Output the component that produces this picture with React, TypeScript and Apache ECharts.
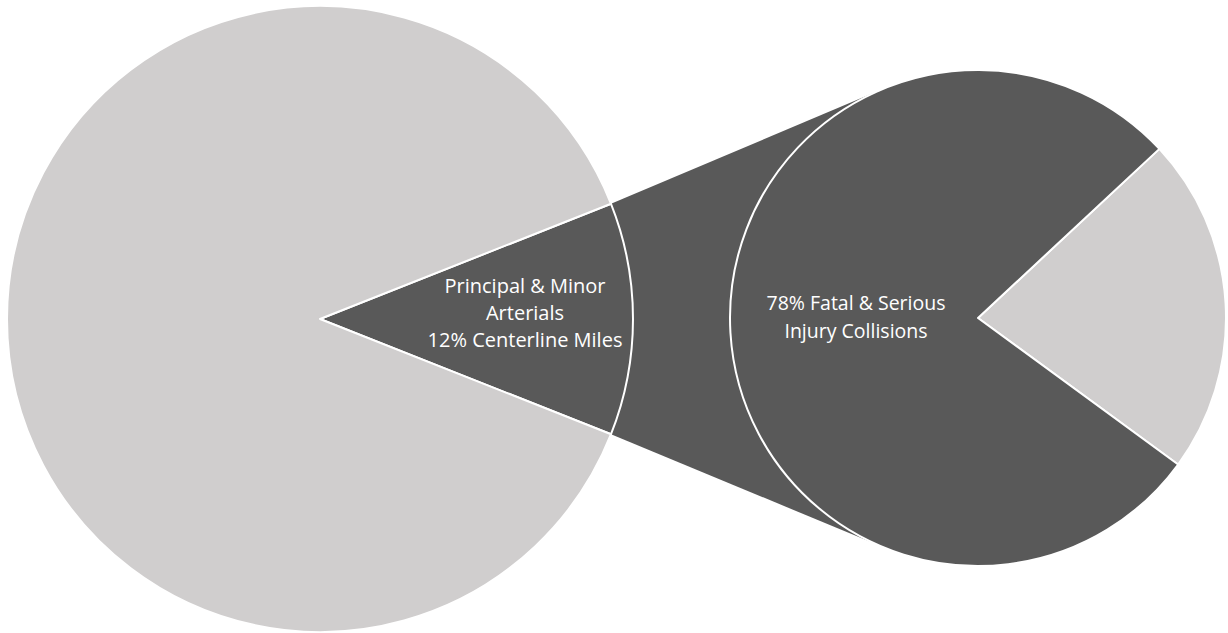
import React, { useEffect, useRef } from "react";
import * as echarts from "echarts";

// Share of centerline miles (left pie) and of fatal & serious injury collisions (right pie)
const milesLabels = ["Principal & Minor Arterials", "Other Roads"];
const milesValues = [12, 88];
const collisionLabels = ["Other Roads", "Principal & Minor Arterials"];
const collisionValues = [22, 78];

const DARK = "#595959";
const LIGHT = "#d0cece";
const W = 1228;
const H = 633;

// pie geometry (px)
const LEFT = { cx: 320, cy: 319, r: 313 };
const RIGHT = { cx: 978, cy: 318, r: 248 };

// outer tangent point from P to a circle, on the upper (sign=1) or lower (sign=-1) side
function tangentPoint(px: number, py: number, c: { cx: number; cy: number; r: number }, sign: number) {
  const dx = c.cx - px;
  const dy = c.cy - py;
  const d = Math.hypot(dx, dy);
  const base = Math.atan2(dy, dx);
  const alpha = Math.asin(c.r / d);
  const dir = base - sign * alpha;
  const L = Math.sqrt(d * d - c.r * c.r);
  return [px + L * Math.cos(dir), py + L * Math.sin(dir)];
}

export default function App() {
  const ref = useRef<HTMLDivElement>(null);

  useEffect(() => {
    if (!ref.current) return;
    const chart = echarts.init(ref.current, undefined, { renderer: "svg" });

    const arterialShare = milesValues[0];
    const total = milesValues.reduce((a, b) => a + b, 0);
    const half = ((arterialShare / total) * Math.PI * 2) / 2;
    const topPt = [LEFT.cx + LEFT.r * Math.cos(half), LEFT.cy - LEFT.r * Math.sin(half)];
    const botPt = [LEFT.cx + LEFT.r * Math.cos(half), LEFT.cy + LEFT.r * Math.sin(half)];
    const tTop = tangentPoint(topPt[0], topPt[1], RIGHT, 1);
    const tBot = tangentPoint(botPt[0], botPt[1], RIGHT, -1);

    const font = "'Open Sans', sans-serif";

    chart.setOption({
      animation: false,
      backgroundColor: "#ffffff",
      graphic: [
        {
          type: "polygon",
          z: 0,
          silent: true,
          shape: { points: [topPt, tTop, [RIGHT.cx, RIGHT.cy], tBot, botPt] },
          style: { fill: DARK },
        },
        {
          type: "text",
          z: 100,
          x: 525,
          y: 312,
          silent: true,
          style: {
            text: `Principal & Minor\nArterials\n${arterialShare}% Centerline Miles`,
            fill: "#ffffff",
            font: `20px ${font}`,
            lineHeight: 27,
            align: "center",
            verticalAlign: "middle",
          },
        },
        {
          type: "text",
          z: 100,
          x: 856,
          y: 316,
          silent: true,
          style: {
            text: `${collisionValues[1]}% Fatal & Serious\nInjury Collisions`,
            fill: "#ffffff",
            font: `19.5px ${font}`,
            lineHeight: 28,
            align: "center",
            verticalAlign: "middle",
          },
        },
      ],
      series: [
        {
          type: "pie",
          silent: true,
          center: [LEFT.cx, LEFT.cy],
          radius: LEFT.r,
          startAngle: (half * 180) / Math.PI,
          clockwise: true,
          label: { show: false },
          labelLine: { show: false },
          emphasis: { disabled: true },
          itemStyle: { borderColor: "#ffffff", borderWidth: 2 },
          data: milesValues.map((v, i) => ({
            name: milesLabels[i],
            value: v,
            itemStyle: { color: i === 0 ? DARK : LIGHT },
          })),
        },
        {
          type: "pie",
          silent: true,
          center: [RIGHT.cx, RIGHT.cy],
          radius: RIGHT.r,
          startAngle: 43,
          clockwise: true,
          label: { show: false },
          labelLine: { show: false },
          emphasis: { disabled: true },
          itemStyle: { borderColor: "#ffffff", borderWidth: 2 },
          data: collisionValues.map((v, i) => ({
            name: collisionLabels[i],
            value: v,
            itemStyle: { color: i === 0 ? LIGHT : DARK },
          })),
        },
      ],
    });

    return () => chart.dispose();
  }, []);

  return (
    <div
      ref={ref}
      style={{ position: "absolute", left: 0, top: 0, width: W, height: H }}
    />
  );
}
